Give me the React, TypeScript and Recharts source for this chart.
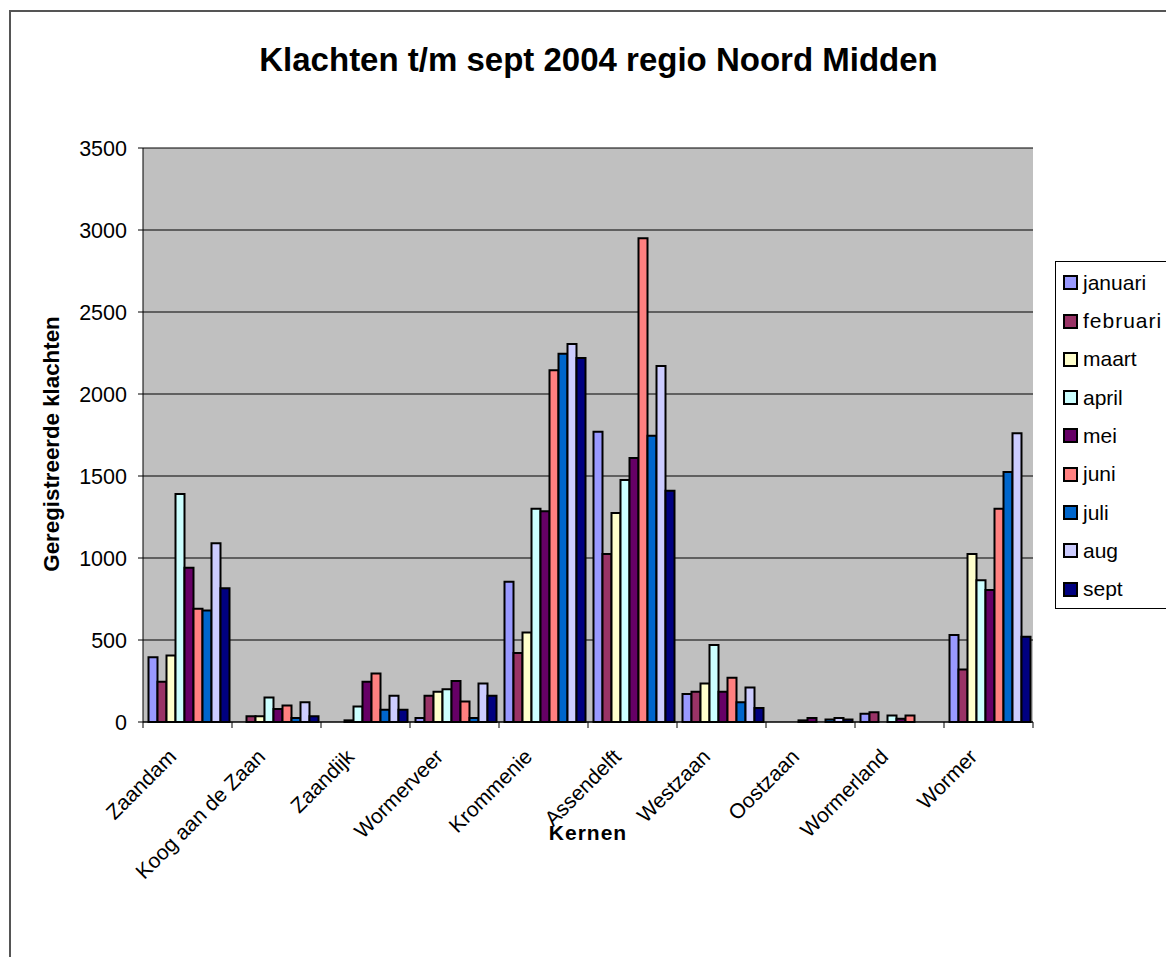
import { BarChart, Bar, XAxis, YAxis, CartesianGrid, Label } from 'recharts'

const categories = [
  'Zaandam', 'Koog aan de Zaan', 'Zaandijk', 'Wormerveer', 'Krommenie',
  'Assendelft', 'Westzaan', 'Oostzaan', 'Wormerland', 'Wormer',
]

const months = ['januari', 'februari', 'maart', 'april', 'mei', 'juni', 'juli', 'aug', 'sept']
const monthColors = ['#9999FF', '#993366', '#FFFFCC', '#CCFFFF', '#660066', '#FF8080', '#0066CC', '#CCCCFF', '#000080']

// waarden per maand, in volgorde van categories
const januari = [395, 0, 0, 25, 855, 1770, 170, 0, 50, 530]
const februari = [245, 35, 0, 160, 420, 1025, 185, 0, 60, 320]
const maart = [405, 35, 10, 185, 545, 1275, 235, 0, 0, 1025]
const april = [1390, 150, 95, 200, 1300, 1475, 470, 10, 40, 865]
const mei = [940, 80, 245, 250, 1285, 1610, 185, 25, 20, 805]
const juni = [690, 100, 295, 125, 2145, 2950, 270, 0, 40, 1300]
const juli = [680, 25, 75, 25, 2245, 1745, 120, 15, 0, 1525]
const aug = [1090, 120, 160, 235, 2305, 2170, 210, 25, 0, 1760]
const sept = [815, 35, 75, 160, 2220, 1410, 85, 15, 0, 520]

const yTicks = [0, 500, 1000, 1500, 2000, 2500, 3000, 3500]

const series = [januari, februari, maart, april, mei, juni, juli, aug, sept]

const data = categories.map((name, i) => {
  const row: Record<string, string | number> = { name }
  months.forEach((m, j) => { row[m] = series[j][i] })
  return row
})

const FONT = "Arial, 'Liberation Sans', sans-serif"
const W = 1166
const H = 957
const PLOT_LEFT = 143
const PLOT_RIGHT = 1033
const PLOT_TOP = 148
const PLOT_BOTTOM = 722
const band = (PLOT_RIGHT - PLOT_LEFT) / categories.length

function CategoryTick(props: any) {
  const { x, payload, index } = props
  const tx = x - 10
  const ty = 758
  return (
    <g>
      <line x1={x - band / 2} y1={PLOT_BOTTOM} x2={x - band / 2} y2={PLOT_BOTTOM + 6} stroke="#000" />
      {index === categories.length - 1 && (
        <line x1={x + band / 2} y1={PLOT_BOTTOM} x2={x + band / 2} y2={PLOT_BOTTOM + 6} stroke="#000" />
      )}
      <text
        x={tx}
        y={ty}
        textAnchor="end"
        transform={`rotate(-45 ${tx} ${ty})`}
        fontSize={21}
        fontFamily={FONT}
        fill="#000"
      >
        {payload.value}
      </text>
    </g>
  )
}

export default function App() {
  return (
    <div style={{ position: 'fixed', left: 0, top: 0, width: W, height: H, overflow: 'hidden', background: '#fff' }}>
      {/* kader rond de grafiek */}
      <div style={{
        position: 'absolute', left: 9, top: 10, width: 1300, height: 1100,
        border: '2px solid #555', boxSizing: 'border-box',
      }} />

      <div style={{
        position: 'absolute', left: 0, top: 40, width: 1197, textAlign: 'center',
        fontFamily: FONT, fontWeight: 700, fontSize: 33, lineHeight: '40px', color: '#000',
      }}>
        Klachten t/m sept 2004 regio Noord Midden
      </div>

      <div style={{ position: 'absolute', left: 0, top: 0 }}>
        <BarChart
          width={W}
          height={H}
          data={data}
          margin={{ top: PLOT_TOP, right: W - PLOT_RIGHT, left: 0, bottom: 0 }}
          barCategoryGap={5.5}
          barGap={0}
        >
          <CartesianGrid fill="#C0C0C0" stroke="#000" vertical={false} fillOpacity={1} />
          <XAxis
            dataKey="name"
            height={H - PLOT_BOTTOM}
            interval={0}
            tickLine={false}
            axisLine={{ stroke: '#000' }}
            tick={<CategoryTick />}
          >
            <Label
              content={() => (
                <text x={588} y={832} textAnchor="middle" dominantBaseline="central"
                  fontFamily={FONT} fontWeight={700} fontSize={21} letterSpacing={1} fill="#000">
                  Kernen
                </text>
              )}
            />
          </XAxis>
          <YAxis
            width={PLOT_LEFT}
            domain={[0, 3500]}
            ticks={yTicks}
            interval={0}
            tickSize={5}
            tickMargin={11}
            tickLine={{ stroke: '#000' }}
            axisLine={{ stroke: '#000' }}
            tick={{ fontSize: 21.5, fill: '#000', fontFamily: FONT }}
          >
            <Label
              content={() => (
                <text x={51} y={444} textAnchor="middle" dominantBaseline="central"
                  transform="rotate(-90 51 444)"
                  fontFamily={FONT} fontWeight={700} fontSize={22.3} fill="#000">
                  Geregistreerde klachten
                </text>
              )}
            />
          </YAxis>
          <YAxis
            yAxisId="rand"
            orientation="right"
            width={0}
            domain={[0, 3500]}
            tick={false}
            tickLine={false}
            axisLine={{ stroke: '#808080' }}
          />
          {months.map((m, j) => (
            <Bar
              key={m}
              dataKey={m}
              fill={monthColors[j]}
              stroke="#000"
              strokeWidth={2}
              isAnimationActive={false}
            />
          ))}
        </BarChart>
      </div>

      {/* legenda */}
      <div style={{
        position: 'absolute', left: 1055, top: 261, width: 140, height: 348,
        border: '1px solid #000', boxSizing: 'border-box', background: '#fff',
        fontFamily: FONT, fontSize: 21, color: '#000',
      }}>
        {months.map((m, j) => (
          <div key={m} style={{
            position: 'absolute', left: 7, top: 20.7 - 14 + j * 38.3, height: 28,
            display: 'flex', alignItems: 'center',
          }}>
            <span style={{
              width: 15, height: 15, boxSizing: 'border-box', border: '2px solid #000',
              background: monthColors[j], display: 'inline-block', marginRight: 5,
            }} />
            <span style={{ letterSpacing: m === 'februari' ? 1 : 0 }}>{m}</span>
          </div>
        ))}
      </div>
    </div>
  )
}
